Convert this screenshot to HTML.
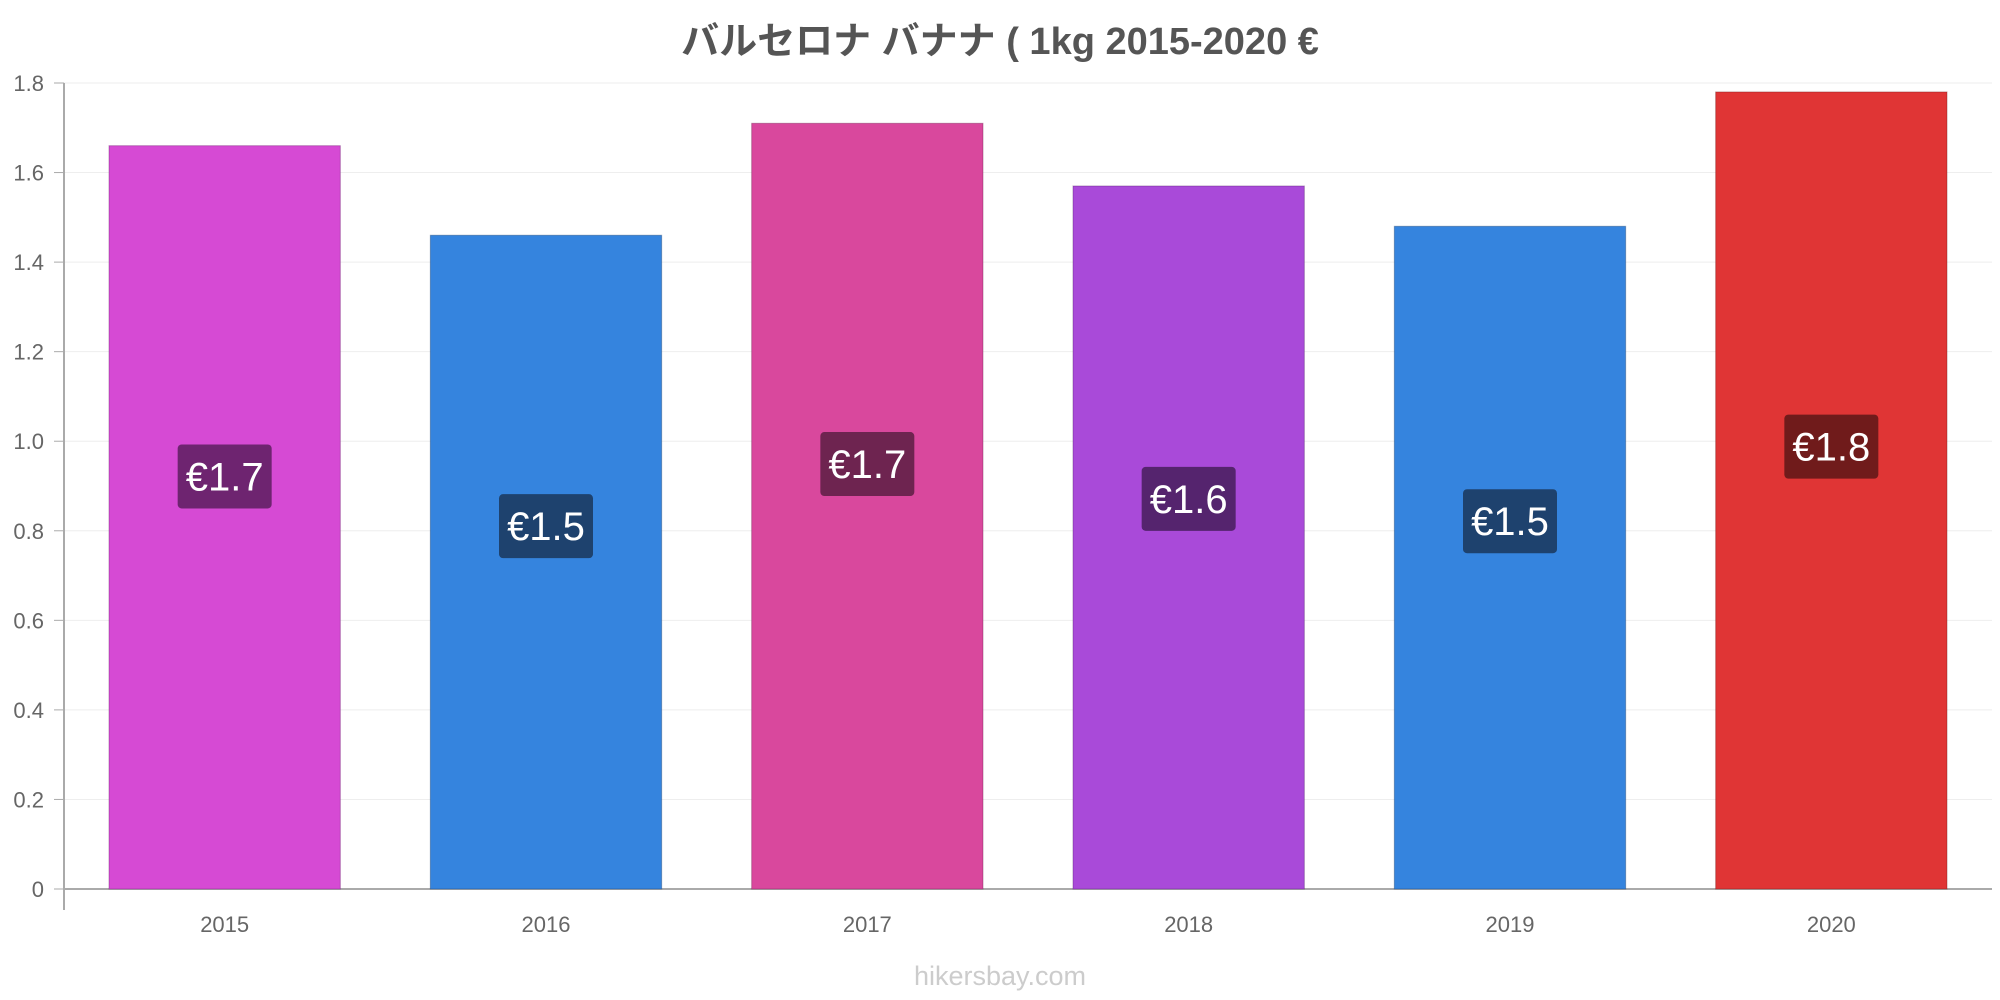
<!DOCTYPE html>
<html><head><meta charset="utf-8"><style>
body{margin:0;background:#fff;}
svg{display:block;font-family:"Liberation Sans","Noto Sans CJK JP",sans-serif;}
</style></head><body>
<svg id="chart" width="2000" height="1000">
<text x="1000" y="54" text-anchor="middle" font-size="38" font-weight="bold" fill="#555">バルセロナ バナナ ( 1kg 2015-2020 €</text>
<g id="grid"></g><g id="bars"></g><g id="labels"></g>
<text x="1000" y="985" text-anchor="middle" font-size="27" fill="#ccc">hikersbay.com</text>
</svg>
<script>
const categories=["2015","2016","2017","2018","2019","2020"];
const values=[1.66,1.46,1.71,1.57,1.48,1.78];
const valueLabels=["€1.7","€1.5","€1.7","€1.6","€1.5","€1.8"];
const yTicks=[0,0.2,0.4,0.6,0.8,1.0,1.2,1.4,1.6,1.8];
const yTickLabels=["0","0.2","0.4","0.6","0.8","1.0","1.2","1.4","1.6","1.8"];
const barColors=["#d64ad4","#3584de","#d9489d","#a94ad9","#3584de","#e03535"];
const labelColors=["#6e2470","#1e426e","#6e2450","#55246e","#1e426e","#701b1b"];
const NS="http://www.w3.org/2000/svg";
const L=64,R=1992,T=83,B=889;
const y=v=>B-(v/1.8)*(B-T);
const band=(R-L)/categories.length;
const x=i=>L+band*i;
function mk(t,a,p){const e=document.createElementNS(NS,t);for(const k in a)e.setAttribute(k,a[k]);p.appendChild(e);return e;}
const grid=document.getElementById('grid'),bars=document.getElementById('bars'),labels=document.getElementById('labels');
yTicks.forEach((v,i)=>{
 const g=mk('line',{x1:L,x2:R,y1:y(v),y2:y(v),stroke:i==0?'#aaa':'#eee','stroke-width':i==0?2:1},grid);
 
 
 const tk=mk('line',{x1:L-10,x2:L,y1:y(v),y2:y(v),stroke:'#aaa','stroke-width':1},grid);
 
 
 const t=mk('text',{x:L-20,y:y(v)+8,'text-anchor':'end','font-size':22,fill:'#666'},grid);
 t.textContent=yTickLabels[i];
 
 
});
const ax=mk('line',{x1:L,x2:L,y1:T,y2:910,stroke:'#aaa','stroke-width':2},grid);


categories.forEach((c,i)=>{
 const bx=x(i)+45,bw=band-90;
 const r=mk('rect',{x:bx,y:y(values[i]),width:bw,height:B-y(values[i]),fill:barColors[i],stroke:labelColors[i],'stroke-opacity':0.4},bars);
 
 
 const cx=bx+bw/2,cy=y(values[i]*0.555);
 const lb=mk('rect',{x:cx-47,y:cy-32,width:94,height:64,rx:4,fill:labelColors[i]},labels);
 
 
 const lt=mk('text',{x:cx,y:cy+14,'text-anchor':'middle','font-size':40,fill:'#fff'},labels);
 lt.textContent=valueLabels[i];
 
 
 const xt=mk('text',{x:cx,y:932,'text-anchor':'middle','font-size':22,fill:'#666'},labels);
 xt.textContent=c;
 
 
});
</script>
</body></html>
